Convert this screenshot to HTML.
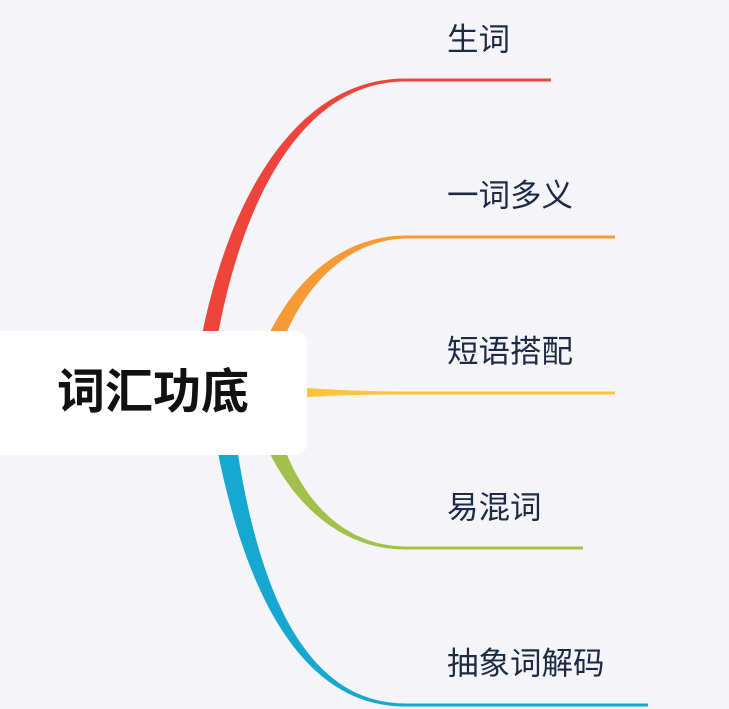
<!DOCTYPE html>
<html><head><meta charset="utf-8"><style>
html,body{margin:0;padding:0;background:#f4f4f9;width:729px;height:709px;overflow:hidden;position:relative;font-family:"Liberation Sans","Noto Sans CJK SC",sans-serif}
svg{position:absolute;left:0;top:0}
.box{position:absolute;left:-10px;top:331px;width:317px;height:124px;background:#fff;border-radius:12px}
.c{position:absolute;left:0;top:331px;width:306px;height:124px;line-height:124px;text-align:center;font-size:48px;font-weight:bold;color:#111}
.l{position:absolute;left:447px;font-size:31.5px;color:#1e2a45;line-height:40px}
</style></head><body>
<svg width="729" height="709">
<path d="M201,340 C228,200 295,79 405,78.5 L405,81.5 C300,82 241,205 217,340 Z" fill="#ee443b"/>
<line x1="405" y1="80" x2="551" y2="80" stroke="#ee443b" stroke-width="3"/>
<path d="M268,336 C300,270 350,236 405,235.5 L405,238.5 C355,240 311,275 285,336 Z" fill="#f59a35"/>
<line x1="405" y1="237" x2="615" y2="237" stroke="#f59a35" stroke-width="3"/>
<path d="M280,386 C330,390 370,391.5 405,391.5 L405,394.5 C370,394.5 330,395 280,399 Z" fill="#fcc43e"/>
<line x1="405" y1="393" x2="615" y2="393" stroke="#fcc43e" stroke-width="3"/>
<path d="M268,450 C300,515 350,549.5 405,549.5 L405,546.5 C355,546 311,515 285,450 Z" fill="#a3c14a"/>
<line x1="405" y1="548" x2="583" y2="548" stroke="#a3c14a" stroke-width="3"/>
<path d="M217,448 C245,590 300,706.5 405,706.5 L405,703.5 C305,703 259,590 237,448 Z" fill="#16a8d1"/>
<line x1="405" y1="705" x2="648" y2="705" stroke="#16a8d1" stroke-width="3"/>
</svg>
<div class="box"></div>
<div class="c">词汇功底</div>
<div class="l" style="top:19px">生词</div>
<div class="l" style="top:175px">一词多义</div>
<div class="l" style="top:331px">短语搭配</div>
<div class="l" style="top:487px">易混词</div>
<div class="l" style="top:643px">抽象词解码</div>
</body></html>
